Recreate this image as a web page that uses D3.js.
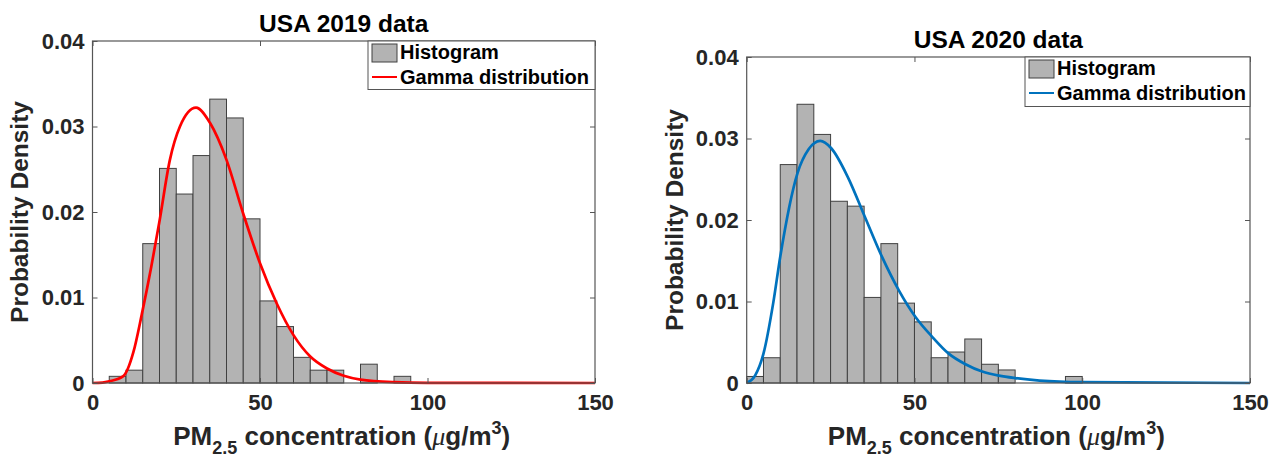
<!DOCTYPE html>
<html>
<head>
<meta charset="utf-8">
<script src="https://cdn.jsdelivr.net/npm/d3@7"></script>
<style>
  html, body { margin: 0; padding: 0; background: #fff; }
  svg { display: block; font-family: "Liberation Sans", Arial, Helvetica, sans-serif; }
</style>
</head>
<body>
<svg id="chart" width="1279" height="457"></svg>
<script>
// ---------------- DATA ----------------
const titles = ["USA 2019 data", "USA 2020 data"];
const xTicks = [0, 50, 100, 150];
const yTicks = [0, 0.01, 0.02, 0.03, 0.04];
const legendLabels = ["Histogram", "Gamma distribution"];
const binWidth = 5;

// 2019 histogram: bin left edges and probability densities
const binLeft2019 = [5, 10, 15, 20, 25, 30, 35, 40, 45, 50, 55, 60, 65, 70, 75, 80, 85, 90];
const density2019 = [0.00078, 0.0015, 0.0163, 0.0251, 0.0221, 0.0266, 0.0332, 0.0310, 0.0192,
                     0.0096, 0.0066, 0.0030, 0.0015, 0.0015, 0, 0.0022, 0, 0.00078];

// 2020 histogram
const binLeft2020 = [0, 5, 10, 15, 20, 25, 30, 35, 40, 45, 50, 55, 60, 65, 70, 75, 80, 85, 90, 95];
const density2020 = [0.0008, 0.0031, 0.0268, 0.0342, 0.0305, 0.0223, 0.0217, 0.0105, 0.0171, 0.0098,
                     0.0075, 0.0031, 0.0038, 0.0054, 0.0023, 0.0016, 0, 0, 0, 0.0008];

// Fitted gamma curves
const gammaX2019 = [0, 3, 5, 9.2, 12.2, 14.7, 17.5, 19.9, 23.1, 26.1, 30.9, 35.1, 40, 45, 50, 55, 60, 65, 70, 75, 80, 90, 100, 150];
const gammaY2019 = [0, 0.00005, 0.0002, 0.0008, 0.0036, 0.0080, 0.0135, 0.0187, 0.0261, 0.0300, 0.0322, 0.0304,
                    0.0261, 0.0198, 0.0140, 0.0093, 0.0056, 0.0031, 0.0017, 0.00085, 0.0004, 0.0001, 0.00002, 0];

const gammaX2020 = [0, 2.5, 5, 7.9, 10, 15.1, 18.5, 21.9, 25.2, 30.1, 35.2, 40.3, 45.3, 50.3, 55.2, 60.2, 65.2, 70.2, 75.2, 80.1, 87.3, 100, 150];
const gammaY2020 = [0, 0.0009, 0.0036, 0.0098, 0.0155, 0.0257, 0.0287, 0.0297, 0.0288, 0.0253, 0.0204, 0.0155,
                    0.0114, 0.0081, 0.0057, 0.0036, 0.0023, 0.0014, 0.0009, 0.0006, 0.0003, 0.0001, 0];

// ---------------- DRAW ----------------
const svg = d3.select("#chart");
const axisColor = "#555555";
const textColor = "#262626";

function panel(cfg) {
  const { left, right, top, bottom, title, binLeft, density, gx, gy, lineColor,
          titleY, yLabelX, legend } = cfg;
  const x = d3.scaleLinear().domain([0, 150]).range([left, right]);
  const y = d3.scaleLinear().domain([0, 0.04]).range([bottom, top]);
  const g = svg.append("g");

  // bars
  g.selectAll("rect.bar").data(binLeft.map((b, i) => ({ b, v: density[i] })))
    .join("rect").attr("class", "bar")
    .attr("x", d => x(d.b))
    .attr("width", d => x(d.b + binWidth) - x(d.b))
    .attr("y", d => y(d.v))
    .attr("height", d => y(0) - y(d.v))
    .attr("fill", "#b3b3b3")
    .attr("stroke", "#404040")
    .attr("stroke-width", 1);

  // gamma curve
  const line = d3.line().x(d => x(d[0])).y(d => y(d[1])).curve(d3.curveMonotoneX);
  g.append("path").datum(gx.map((v, i) => [v, gy[i]]))
    .attr("d", line).attr("fill", "none")
    .attr("stroke", lineColor).attr("stroke-width", 2.7);

  // axes
  const fmtY = d => d === 0 ? "0" : d3.format(".2f")(d);
  const ax = [
    g.append("g").attr("transform", `translate(0,${bottom})`)
      .call(d3.axisBottom(x).tickValues(xTicks).tickSizeInner(-5).tickSizeOuter(0).tickPadding(11)),
    g.append("g").attr("transform", `translate(0,${top})`)
      .call(d3.axisTop(x).tickValues(xTicks).tickSizeInner(-5).tickSizeOuter(0).tickFormat("")),
    g.append("g").attr("transform", `translate(${left},0)`)
      .call(d3.axisLeft(y).tickValues(yTicks).tickSizeInner(-5).tickSizeOuter(0).tickPadding(8).tickFormat(fmtY)),
    g.append("g").attr("transform", `translate(${right},0)`)
      .call(d3.axisRight(y).tickValues(yTicks).tickSizeInner(-5).tickSizeOuter(0).tickFormat(""))
  ];
  ax.forEach(a => {
    a.select(".domain").remove();
    a.selectAll(".tick line").attr("stroke", axisColor).attr("stroke-width", 1);
    a.selectAll(".tick text").attr("fill", textColor).attr("font-size", 22).attr("font-weight", "bold")
      .attr("font-family", "'Liberation Sans', Arial, sans-serif");
  });

  // box
  g.append("rect").attr("x", left).attr("y", top).attr("width", right - left).attr("height", bottom - top)
    .attr("fill", "none").attr("stroke", axisColor).attr("stroke-width", 1.2);

  // title
  g.append("text").attr("x", (left + right) / 2).attr("y", titleY)
    .attr("text-anchor", "middle").attr("font-size", 24.5).attr("font-weight", "bold")
    .attr("fill", "#000").text(title);

  // y label
  g.append("text").attr("transform", `translate(${yLabelX},${(top + bottom) / 2}) rotate(-90)`)
    .attr("text-anchor", "middle").attr("font-size", 24.5).attr("font-weight", "bold")
    .attr("fill", textColor).text("Probability Density");

  // x label
  const xl = g.append("text").attr("x", (left + right) / 2 - 2).attr("y", 445)
    .attr("text-anchor", "middle").attr("font-size", 26).attr("font-weight", "bold").attr("fill", textColor);
  xl.append("tspan").text("PM");
  xl.append("tspan").attr("dy", 9).attr("font-size", 18).text("2.5");
  xl.append("tspan").attr("dy", -9).text(" concentration (");
  xl.append("tspan").attr("font-style", "italic").attr("font-weight", "normal")
    .attr("font-family", "'Liberation Serif', 'Times New Roman', serif").text("\u03bc");
  xl.append("tspan").text("g/m");
  xl.append("tspan").attr("dy", -11).attr("font-size", 18).text("3");
  xl.append("tspan").attr("dy", 11).text(")");

  // legend
  const lg = g.append("g");
  lg.append("rect").attr("x", legend.x).attr("y", top).attr("width", right - legend.x).attr("height", legend.h)
    .attr("fill", "#fff").attr("stroke", axisColor).attr("stroke-width", 1);
  lg.append("rect").attr("x", legend.x + 4).attr("y", top + 3).attr("width", 25).attr("height", 18)
    .attr("fill", "#b3b3b3").attr("stroke", "#404040").attr("stroke-width", 1);
  lg.append("line").attr("x1", legend.x + 4).attr("x2", legend.x + 29)
    .attr("y1", top + 36).attr("y2", top + 36).attr("stroke", lineColor).attr("stroke-width", 2);
  lg.selectAll("text.leg").data(legendLabels).join("text").attr("class", "leg")
    .attr("x", legend.x + 32).attr("y", (d, i) => top + 18 + i * 24.5)
    .attr("font-size", 20).attr("font-weight", "bold").attr("fill", "#000").text(d => d);
}

panel({ left: 92.5, right: 595, top: 41, bottom: 383, title: titles[0],
        binLeft: binLeft2019, density: density2019, gx: gammaX2019, gy: gammaY2019,
        lineColor: "#ff0000", titleY: 32, yLabelX: 28, legend: { x: 368, h: 48.5 } });
panel({ left: 746.7, right: 1250, top: 57, bottom: 383, title: titles[1],
        binLeft: binLeft2020, density: density2020, gx: gammaX2020, gy: gammaY2020,
        lineColor: "#0072bd", titleY: 48, yLabelX: 683, legend: { x: 1025, h: 49.5 } });
</script>
</body>
</html>
